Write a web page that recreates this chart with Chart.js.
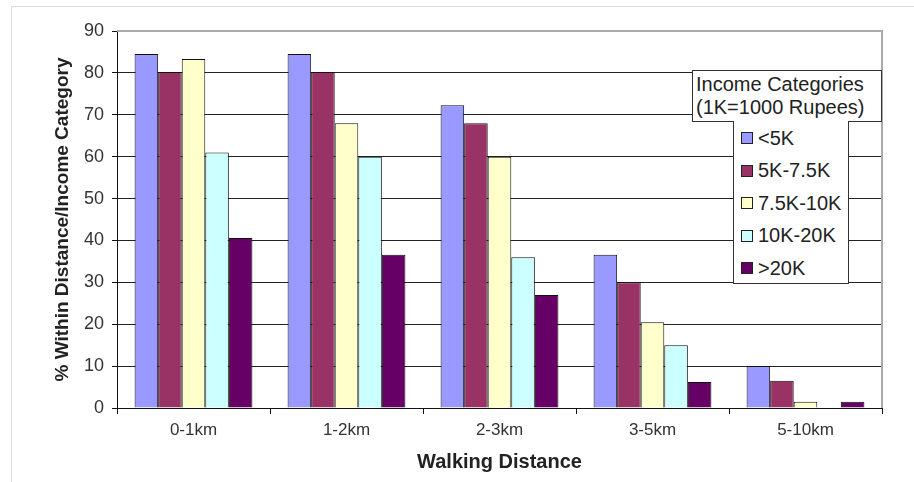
<!DOCTYPE html>
<html>
<head>
<meta charset="utf-8">
<script src="https://cdn.jsdelivr.net/npm/chart.js@4.4.0/dist/chart.umd.min.js"></script>
<style>
  body { margin: 0; background: #fff; }
  #wrap { position: relative; width: 914px; height: 482px; font-family: "Liberation Sans", Arial, sans-serif; }
  #frame { position: absolute; left: 11px; top: 6px; width: 920px; height: 500px; border: 1px solid #ddd; }
  #legendTitle { position: absolute; left: 692px; top: 70px; width: 190px; height: 52px; border: 1px solid #333; background: #fff;
    font-size: 20px; line-height: 23px; color: #222; padding: 2px 0 0 3px; box-sizing: border-box; white-space: nowrap; }
  #legendItems { position: absolute; left: 733px; top: 121px; width: 116px; height: 163px; border: 1px solid #333; border-top: none;
    background: #fff; box-sizing: border-box; padding-top: 1px; }
  .item { height: 32.5px; font-size: 20px; color: #222; display: flex; align-items: center; padding-left: 7px; white-space: nowrap; }
  .sw { width: 10px; height: 10px; border: 1px solid #222; margin-right: 5px; flex: none; }
</style>
</head>
<body>
<div id="wrap">
  <div id="frame"></div>
  <canvas id="grafica" width="914" height="482"></canvas>
  <div id="legendTitle">Income Categories<br>(1K=1000 Rupees)</div>
  <div id="legendItems"></div>
</div>
<script>
// datos
const distancias = ['0-1km', '1-2km', '2-3km', '3-5km', '5-10km'];
const categorias = ['<5K', '5K-7.5K', '7.5K-10K', '10K-20K', '>20K'];
const colores = ['#9999FF', '#993366', '#FFFFCC', '#CCFFFF', '#660066'];
const menos5K = [84.5, 84.5, 72.3, 36.6, 10];
const de5a75K = [80.2, 80.2, 68, 30, 6.5];
const de75a10K = [83.3, 68, 60, 20.5, 1.5];
const de10a20K = [61, 60, 36, 15, 0];
const mas20K = [40.6, 36.6, 27, 6.2, 1.5];
const series = [menos5K, de5a75K, de75a10K, de10a20K, mas20K];
const ticksY = [0, 10, 20, 30, 40, 50, 60, 70, 80, 90];

const fuente = "'Liberation Sans', Arial, sans-serif";

const datasets = [];
for (var i in series) {
    datasets.push({
        label: categorias[i],
        data: series[i],
        backgroundColor: colores[i],
        borderColor: '#111',
        borderWidth: 1,
        borderSkipped: 'start',
        barPercentage: 1,
        categoryPercentage: 0.77
    });
}

// leyenda en html
const $leyenda = document.getElementById('legendItems');
for (var i in categorias) {
    const div = document.createElement('div');
    div.className = 'item';
    div.innerHTML = '<span class="sw" style="background:' + colores[i] + '"></span>' + categorias[i].replace('<', '&lt;').replace('>', '&gt;');
    $leyenda.appendChild(div);
}

// borde gris del area de la grafica
const bordeArea = {
    id: 'bordeArea',
    beforeDatasetsDraw(chart) {
        const { ctx, chartArea: a } = chart;
        ctx.save();
        ctx.strokeStyle = '#aaa';
        ctx.lineWidth = 2;
        ctx.beginPath();
        ctx.moveTo(a.left, a.top);
        ctx.lineTo(a.right, a.top);
        ctx.lineTo(a.right, a.bottom);
        ctx.stroke();
        ctx.restore();
    }
};

new Chart(document.getElementById('grafica'), {
    type: 'bar',
    data: { labels: distancias, datasets: datasets },
    plugins: [bordeArea],
    options: {
        responsive: false,
        animation: false,
        layout: { padding: { left: 45, right: 32, top: 31, bottom: 8 } },
        plugins: { legend: { display: false }, tooltip: { enabled: false } },
        scales: {
            x: {
                afterFit: (s) => { s.height = 66; },
                grid: { offset: true, drawOnChartArea: false, drawTicks: true, tickLength: 6, color: '#111', lineWidth: 1 },
                border: { color: '#111', width: 1 },
                ticks: { color: '#333', font: { family: fuente, size: 17 }, padding: 6 },
                title: { display: true, text: 'Walking Distance', color: '#222', font: { family: fuente, size: 20, weight: 'bold' }, padding: { top: 4, bottom: 0 } }
            },
            y: {
                min: 0,
                max: 90,
                afterFit: (s) => { s.width = 72; },
                afterBuildTicks: (s) => { s.ticks = ticksY.map(v => ({ value: v })); },
                grid: {
                    color: (c) => c.tick && c.tick.value === 90 ? 'rgba(0,0,0,0)' : '#222',
                    tickColor: '#111',
                    tickLength: 5,
                    lineWidth: 1
                },
                border: { color: '#111', width: 1 },
                ticks: { color: '#333', font: { family: fuente, size: 18 }, padding: 8 },
                title: { display: true, text: '% Within Distance/Income Category', color: '#222', font: { family: fuente, size: 19, weight: 'bold' }, padding: { top: 6, bottom: 0 } }
            }
        }
    }
});
</script>
</body>
</html>
